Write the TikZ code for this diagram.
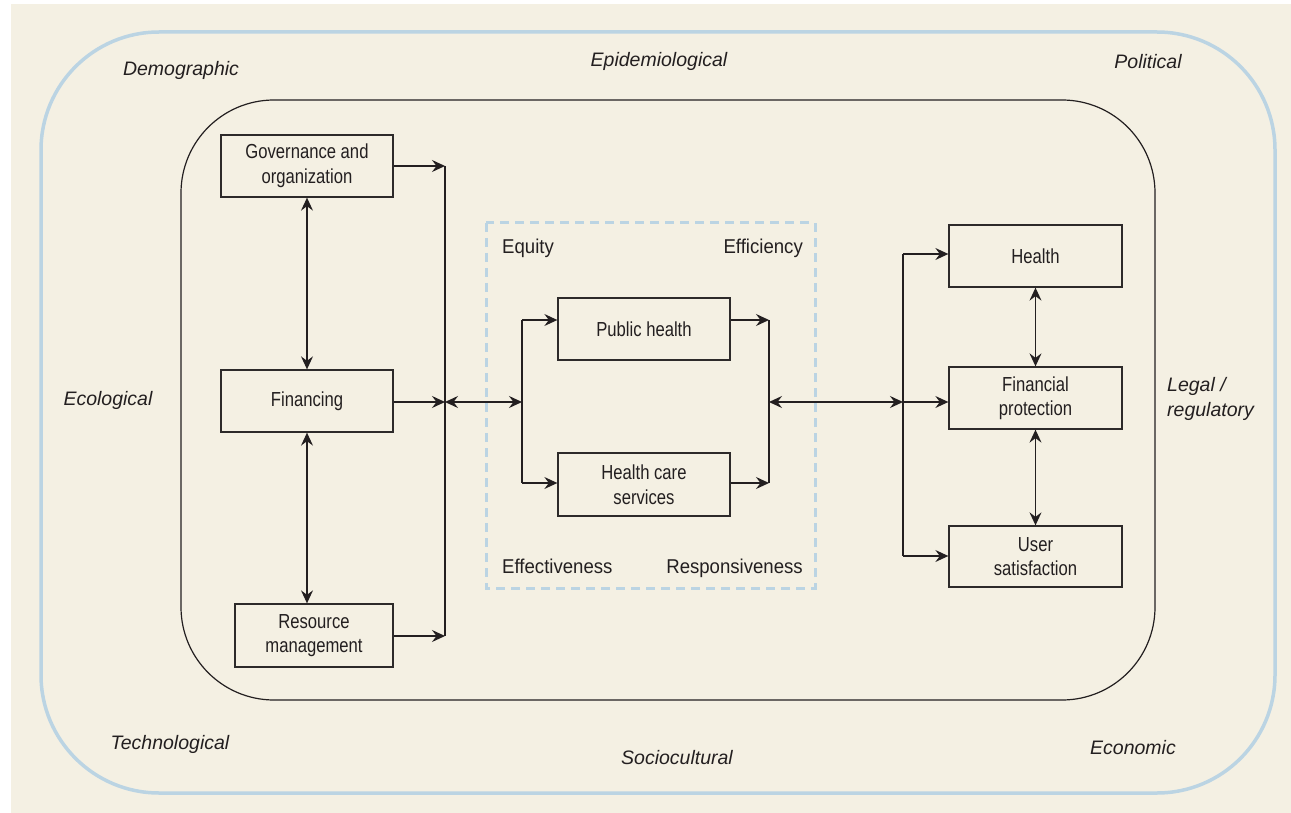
\documentclass[tikz,border=0pt]{standalone}
\usepackage{fontspec}
\setmainfont{Liberation Sans}
\newfontfamily\boxfont[FakeStretch=0.82]{Liberation Sans}
\newfontfamily\labfont[FakeStretch=0.93]{Liberation Sans}
\usetikzlibrary{arrows.meta}
\definecolor{bgc}{RGB}{244,240,227}
\definecolor{bluec}{RGB}{187,212,227}
\definecolor{inkc}{RGB}{35,31,32}
\definecolor{linec}{RGB}{45,42,42}
\tikzset{
  box/.style={draw=linec, line width=1.3pt, fill=bgc, inner sep=0pt, align=center,
    text=inkc, font=\boxfont\fontsize{20.3}{24.5}\selectfont},
  ctx/.style={inner sep=0pt, text=inkc, font=\itshape\fontsize{19.5}{25}\selectfont},
  crit/.style={inner sep=0pt, text=inkc, font=\labfont\fontsize{20}{24}\selectfont},
  conn/.style={draw=inkc, line width=1.4pt},
  tip/.tip={Stealth[length=13pt,width=12pt,inset=4.5pt]},
  arr/.style={conn, -tip},
  darr/.style={conn, tip-tip}
}
\begin{document}
\begin{tikzpicture}[x=1pt,y=-1pt]
\useasboundingbox (0,0) rectangle (1291,813);
\fill[white] (0,0) rectangle (1291,813);
\fill[bgc] (11,4) rectangle (1291,813);
% frames
\draw[bluec, line width=3.5pt, rounded corners=118pt] (41,32) rectangle (1275,793);
\draw[inkc, line width=1.2pt, rounded corners=93pt] (181,100) rectangle (1155,700);
\draw[bluec, line width=3pt, dash pattern=on 9pt off 6pt] (486,223) rectangle (815,588);
% context labels
\node[ctx, anchor=base] (demo) at (181,76) {Demographic};
\node[ctx, anchor=base] (epi) at (659,67) {Epidemiological};
\node[ctx, anchor=base] (pol) at (1148,69) {Political};
\node[ctx, anchor=base] (eco) at (108,405) {Ecological};
\node[ctx, anchor=base west, align=left] (legal) at (1167,416) {Legal /\\regulatory};
\node[ctx, anchor=base] (tech) at (170,749) {Technological};
\node[ctx, anchor=base] (soc) at (677,764) {Sociocultural};
\node[ctx, anchor=base] (econ) at (1133,754) {Economic};
% criteria labels
\node[crit, anchor=base west] (equity) at (502,254) {Equity};
\node[crit, anchor=base east] (effic) at (803,254) {Efficiency};
\node[crit, anchor=base west] (effect) at (502,573) {Effectiveness};
\node[crit, anchor=base east] (resp) at (803,573) {Responsiveness};
% boxes
\node[box, minimum width=172pt, minimum height=62pt] (gov) at (307,166) {Governance and\\organization};
\node[box, minimum width=172pt, minimum height=62pt] (fin) at (307,401) {Financing};
\node[box, minimum width=158pt, minimum height=63pt] (res) at (314,635.5) {Resource\\management};
\node[box, minimum width=172pt, minimum height=62pt] (ph) at (644,329) {Public health};
\node[box, minimum width=172pt, minimum height=63pt] (hc) at (644,484.5) {Health care\\services};
\node[box, minimum width=173pt, minimum height=62pt] (hea) at (1035.5,256) {Health};
\node[box, minimum width=173pt, minimum height=62pt] (fp) at (1035.5,398) {Financial\\protection};
\node[box, minimum width=173pt, minimum height=61pt] (us) at (1035.5,556.5) {User\\satisfaction};
% bus coordinates
\coordinate (bLt) at (445,166);
\coordinate (bLm) at (445,402);
\coordinate (bLb) at (445,636);
\coordinate (bMm) at (522,402);
\coordinate (bMt) at (522,320);
\coordinate (bMb) at (522,483);
\coordinate (bNt) at (769,320);
\coordinate (bNm) at (769,402);
\coordinate (bNb) at (769,483);
\coordinate (bRt) at (903,254);
\coordinate (bRm) at (903,402);
\coordinate (bRb) at (903,556);
% left side
\draw[darr] (gov.south) -- (fin.north);
\draw[darr] (fin.south) -- (fin.south |- res.north);
\draw[arr] (gov.east |- bLt) -- (bLt);
\draw[arr] (fin.east |- bLm) -- (bLm);
\draw[arr] (res.east |- bLb) -- (bLb);
\draw[conn] (bLt) -- (bLb);
% middle
\draw[darr] (bLm) -- (bMm);
\draw[conn] (bMt) -- (bMb);
\draw[arr] (bMt) -- (ph.west |- bMt);
\draw[arr] (bMb) -- (hc.west |- bMb);
\draw[arr] (ph.east |- bNt) -- (bNt);
\draw[arr] (hc.east |- bNb) -- (bNb);
\draw[conn] (bNt) -- (bNb);
\draw[darr] (bNm) -- (bRm);
% right side
\draw[conn] (bRt) -- (bRb);
\draw[arr] (bRt) -- (hea.west |- bRt);
\draw[arr] (bRm) -- (fp.west |- bRm);
\draw[arr] (bRb) -- (us.west |- bRb);
\draw[darr] (hea.south) -- (fp.north);
\draw[darr] (fp.south) -- (us.north);
\end{tikzpicture}
\end{document}
